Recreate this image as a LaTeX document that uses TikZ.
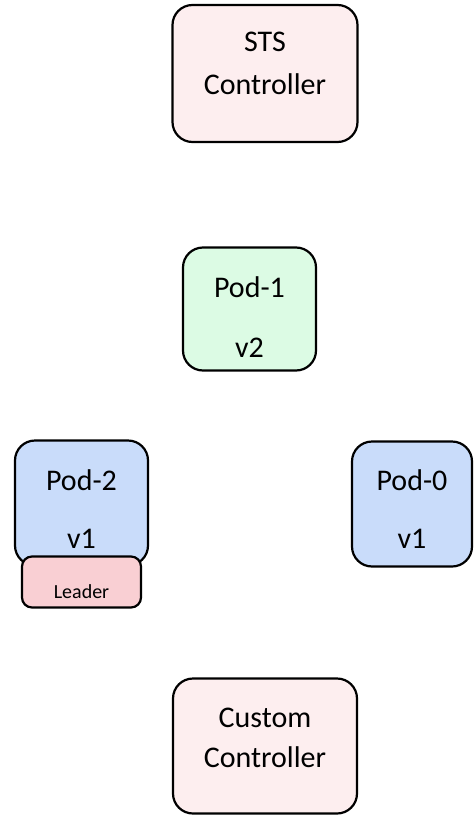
\documentclass[tikz,border=0pt]{standalone}
\usepackage{fontspec}
\setmainfont{Carlito}
\definecolor{ctrlfill}{HTML}{FDEEEF}
\definecolor{greenfill}{HTML}{DCFBE4}
\definecolor{bluefill}{HTML}{C9DCFA}
\definecolor{leaderfill}{HTML}{F9CFD3}
\tikzset{
  box/.style={draw=black, line width=2.2pt, rounded corners=20pt, rectangle, inner sep=0pt},
  lbl/.style={anchor=base, inner sep=0pt, font=\fontsize{30}{36}\selectfont},
  small/.style={anchor=base, inner sep=0pt, font=\fontsize{20}{24}\selectfont},
}
\begin{document}
\begin{tikzpicture}[x=1pt,y=-1pt]
\useasboundingbox (0,0) rectangle (474,816);
% STS controller
\node[box, fill=ctrlfill, minimum width=185pt, minimum height=137pt] (sts) at (265,73.5) {};
\node[lbl] (stsA) at (265,52) {STS};
\node[lbl] (stsB) at (265,94) {Controller};
% Pod-1
\node[box, fill=greenfill, minimum width=133pt, minimum height=123pt] (pod1) at (249.5,309) {};
\node[lbl] (pod1A) at (249.5,297) {Pod-1};
\node[lbl] (pod1B) at (249.5,357) {v2};
% Pod-2
\node[box, fill=bluefill, minimum width=133pt, minimum height=125pt] (pod2) at (81.5,503) {};
\node[lbl] (pod2A) at (81.5,490) {Pod-2};
\node[lbl] (pod2B) at (81.5,548) {v1};
% Leader
\node[box, fill=leaderfill, rounded corners=10pt, minimum width=119pt, minimum height=51pt] (leader) at (81.5,582) {};
\node[small] (leaderT) at (81.5,598) {Leader};
% Pod-0
\node[box, fill=bluefill, minimum width=120pt, minimum height=125pt] (pod0) at (412,504) {};
\node[lbl] (pod0A) at (412,490) {Pod-0};
\node[lbl] (pod0B) at (412,548) {v1};
% Custom controller
\node[box, fill=ctrlfill, minimum width=184pt, minimum height=135pt] (cust) at (265,746) {};
\node[lbl] (custA) at (265,727) {Custom};
\node[lbl] (custB) at (265,767) {Controller};
\end{tikzpicture}
\end{document}
